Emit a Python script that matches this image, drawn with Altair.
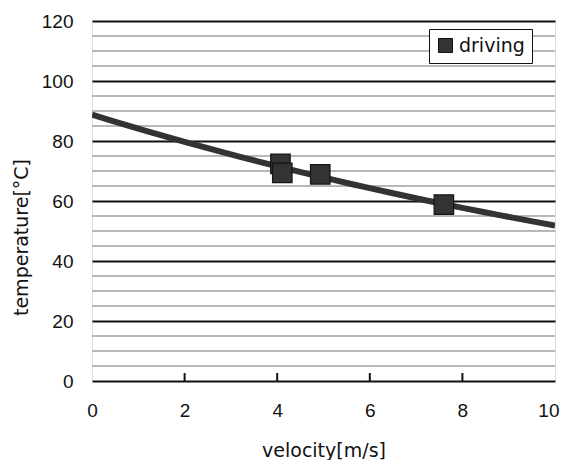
import altair as alt
import pandas as pd

# data
velocity = [4.07, 4.11, 4.93, 7.60]
temperature = [72.4, 69.4, 68.9, 58.8]
series_name = ["driving"] * 4

x_ticks = [0, 2, 4, 6, 8, 10]
inner_ticks = [2, 4, 6, 8]
y_major = [0, 20, 40, 60, 80, 100, 120]
y_minor = [5, 10, 15, 25, 30, 35, 45, 50, 55, 65, 70, 75, 85, 90, 95, 105, 110, 115]

TICK_FONT = "Liberation Sans"
TEXT_FONT = "DejaVu Sans"

df = pd.DataFrame({"x": velocity, "y": temperature, "series": series_name})
ticks_df = pd.DataFrame({"x": inner_ticks})
minor_df = pd.DataFrame({"y": y_minor})

W, H = 463, 360

xscale = alt.Scale(domain=[0, 10], nice=False, zero=False)
yscale = alt.Scale(domain=[0, 120], nice=False)

xaxis = alt.Axis(
    values=x_ticks, grid=False, domain=False, ticks=False, labelFlush=False,
    labelAlign=alt.condition("datum.value == 10", alt.value("right"), alt.value("center")),
    labelOffset=alt.condition("datum.value == 10", alt.value(4), alt.value(0)),
    labelFontSize=19, labelPadding=20, labelColor="#111", labelFont=TICK_FONT,
    title="velocity[m/s]", titleFontSize=19, titleFontWeight="normal",
    titleFont=TEXT_FONT, titleColor="#111", titlePadding=21,
)
yaxis = alt.Axis(
    values=y_major, grid=True, domain=False, ticks=False, labelFlush=False,
    gridColor="#111111", gridWidth=1.8,
    labelFontSize=19, labelPadding=19, labelColor="#111", labelFont=TICK_FONT,
    title="temperature[°C]", titleFontSize=19, titleFontWeight="normal",
    titleFont=TEXT_FONT, titleColor="#111", titleAngle=-90,
    titleX=-71, titleY=216, titleAlign="center", titleBaseline="middle",
)

minor = alt.Chart(minor_df).mark_rule(color="#b8b8b8", strokeWidth=1.8).encode(
    y=alt.Y("y:Q", scale=yscale, axis=yaxis),
)

inner = alt.Chart(ticks_df).mark_rule(color="#111111", strokeWidth=2).encode(
    x=alt.X("x:Q", scale=xscale, axis=xaxis),
    y=alt.value(H),
    y2=alt.value(H - 8),
)

base = alt.Chart(df)

trend = base.transform_regression(
    "x", "y", method="exp", extent=[0, 10]
).mark_line(color="#333333", strokeWidth=6, clip=True).encode(
    x=alt.X("x:Q", scale=xscale),
    y=alt.Y("y:Q", scale=yscale),
)

points = base.mark_point(
    shape="square", filled=True, size=380, opacity=1,
    stroke="#151515", strokeWidth=1.2,
).encode(
    x=alt.X("x:Q", scale=xscale),
    y=alt.Y("y:Q", scale=yscale),
    color=alt.Color(
        "series:N",
        scale=alt.Scale(range=["#333333"]),
        legend=alt.Legend(
            title=None, orient="none", legendX=337, legendY=8,
            symbolType="square", symbolSize=196, symbolFillColor="#333333",
            symbolStrokeColor="#111111", symbolStrokeWidth=1, symbolOpacity=1,
            labelFontSize=19, labelFont=TEXT_FONT, labelColor="#111",
            strokeColor="#111111", fillColor="white", padding=7,
            labelOffset=4,
        ),
    ),
)

chart = alt.layer(minor, inner, trend, points).properties(
    width=W, height=H,
    autosize=alt.AutoSizeParams(type="none"),
    padding={"left": 84, "top": 13, "right": 5, "bottom": 79},
).configure_view(
    stroke="#111111", strokeWidth=2.2
).configure(background="white")

chart.save("out.html", embed_options={"renderer": "svg", "actions": False})
